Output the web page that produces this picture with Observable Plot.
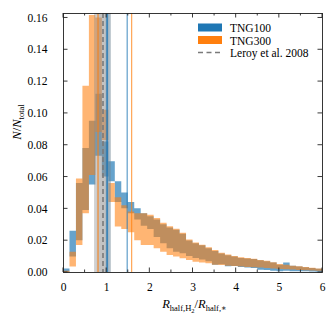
<!DOCTYPE html>
<html><head><meta charset="utf-8">
<script src="https://cdn.jsdelivr.net/npm/d3@7"></script>
<script src="https://cdn.jsdelivr.net/npm/@observablehq/plot@0.6"></script>
<style>body{margin:0;background:#fff} svg, svg text, svg tspan{font-family:"Liberation Serif","Times New Roman","DejaVu Serif",serif !important}</style>
</head><body><div id="chart"></div>
<script>
// bin edges of R_half,H2 / R_half,*
const binEdges = [0,0.15,0.3,0.45,0.6,0.75,0.9,1.05,1.2,1.35,1.5,1.65,1.8,1.95,2.1,2.25,2.4,2.55,2.7,2.85,3.0,3.15,3.3,3.45,3.6,3.75,3.9,4.05,4.2,4.35,4.5,4.65,4.8,4.95,5.1,5.25,5.4,5.55,5.7,5.85,6.0];
// TNG100 band (lower / upper)
const tng100Lower = [0.000,0.0097,0.020,0.039,0.055,0.073,0.060,0.057,0.044,0.040,0.037,0.033,0.029,0.027,0.022,0.018,0.015,0.0128,0.0118,0.0100,0.0088,0.0078,0.0068,0.0045,0.0048,0.0036,0.0038,0.0032,0.0028,0.0025,0.0014,0.0012,0.0008,0.0005,0.0008,0.0005,0.0005,0.0004,0.0003,0.0002];
const tng100Upper = [0.0022,0.026,0.056,0.078,0.095,0.112,0.082,0.0696,0.057,0.050,0.044,0.040,0.037,0.035,0.033,0.030,0.028,0.0265,0.024,0.0198,0.018,0.0168,0.015,0.0132,0.0117,0.0105,0.0097,0.0088,0.0085,0.0082,0.0074,0.0068,0.0060,0.0046,0.0059,0.0040,0.0034,0.0030,0.0025,0.0020];
// TNG300 band (lower / upper)
const tng300Lower = [0.000,0.0034,0.017,0.037,0.061,0.088,0.083,0.044,0.0286,0.027,0.025,0.020,0.017,0.017,0.015,0.0128,0.0107,0.0097,0.0086,0.0076,0.0065,0.0059,0.0055,0.0046,0.0044,0.0040,0.0038,0.0035,0.0032,0.0030,0.0028,0.0025,0.0022,0.0019,0.0017,0.0015,0.0013,0.0011,0.0009,0.0008];
const tng300Upper = [0.0008,0.0128,0.0587,0.117,0.1615,0.160,0.102,0.056,0.047,0.042,0.038,0.037,0.037,0.036,0.034,0.031,0.0288,0.0272,0.0246,0.0204,0.0185,0.0172,0.0155,0.0138,0.0121,0.0110,0.0100,0.0092,0.0088,0.0084,0.0076,0.0070,0.0062,0.0050,0.0045,0.0040,0.0036,0.0032,0.0027,0.0022];
// reference lines
const leroyRange = [0.72, 1.11];
const leroyInner = [0.78, 1.06];
const leroyValue = [0.915];
const tng100Median = [1.01];
const tng300Median = [0.80];
const tng100MedianBand = [0.985, 1.10];
const tng100Mean = [1.475];
const tng300Mean = [1.58];
// ticks
const xTicks = [0,1,2,3,4,5,6];
const xMinor = [0.5,1.5,2.5,3.5,4.5,5.5];
const yTicks = [0,0.02,0.04,0.06,0.08,0.10,0.12,0.14,0.16];
const yMax = 0.1628;
const legendLabels = ["TNG100","TNG300","Leroy et al. 2008"];

const blue = "#1f77b4", orange = "#ff7f0e";
const FONT = "'Liberation Serif', 'Times New Roman', 'DejaVu Serif', serif";
const pts = (lo, hi) => binEdges.map((x, i) => ({x, lo: lo[Math.min(i, lo.length-1)], hi: hi[Math.min(i, hi.length-1)]}));

const plot = Plot.plot({
  width: 329, height: 319,
  marginLeft: 63, marginRight: 7, marginTop: 13, marginBottom: 47,
  style: {fontFamily: FONT, fontSize: "11.5px", color: "#000", background: "#fff"},
  x: {domain: [0, 6], label: null},
  y: {domain: [0, yMax], label: null},
  marks: [
    Plot.areaY(pts(tng100Lower, tng100Upper), {x: "x", y1: "lo", y2: "hi", curve: "step-after", fill: blue, fillOpacity: 0.68}),
    Plot.areaY(pts(tng300Lower, tng300Upper), {x: "x", y1: "lo", y2: "hi", curve: "step-after", fill: orange, fillOpacity: 0.58}),
    Plot.rect([{a: leroyRange[0], b: leroyRange[1]}], {x1: "a", x2: "b", fill: "#8c8c8c", fillOpacity: 0.4}),
    Plot.rect([{a: leroyInner[0], b: leroyInner[1]}], {x1: "a", x2: "b", fill: "#8c8c8c", fillOpacity: 0.2}),
    Plot.rect([{a: tng100MedianBand[0], b: tng100MedianBand[1]}], {x1: "a", x2: "b", fill: blue, fillOpacity: 0.2}),
    Plot.ruleX(tng300Median, {stroke: orange, strokeWidth: 1.2, strokeOpacity: 0.8}),
    Plot.ruleX(tng100Median, {stroke: blue, strokeWidth: 1.5, strokeOpacity: 0.9}),
    Plot.ruleX(leroyValue, {stroke: "#7a7a7a", strokeWidth: 1.6, strokeDasharray: "5,3"}),
    Plot.ruleX(tng100Mean, {stroke: blue, strokeWidth: 1, strokeOpacity: 0.85}),
    Plot.ruleX(tng300Mean, {stroke: orange, strokeWidth: 1, strokeOpacity: 0.85}),
    Plot.axisX({ticks: xTicks, tickSize: 0, tickPadding: 10, tickFormat: d => String(d), label: null}),
    Plot.axisY({ticks: yTicks, tickSize: 0, tickPadding: 16, tickFormat: d3.format(".2f"), label: null}),
    Plot.frame({stroke: "#222", strokeWidth: 0.9})
  ]
});
document.getElementById("chart").appendChild(plot);

const svg = d3.select(plot);
svg.selectAll("text").attr("font-family", FONT);
const sx = plot.scale("x"), sy = plot.scale("y");
const [xl, xr] = sx.range, [yb, yt] = sy.range;
const g = svg.append("g").attr("stroke", "#222").attr("stroke-width", 0.9);
function vt(v, len) {
  const X = sx.apply(v);
  g.append("line").attr("x1", X).attr("x2", X).attr("y1", yb).attr("y2", yb - len);
  g.append("line").attr("x1", X).attr("x2", X).attr("y1", yt).attr("y2", yt + len);
}
xTicks.forEach(v => vt(v, 4.5));
xMinor.forEach(v => vt(v, 2.5));
yTicks.forEach(v => {
  const Y = sy.apply(v);
  g.append("line").attr("x1", xl).attr("x2", xl + 4.5).attr("y1", Y).attr("y2", Y);
  g.append("line").attr("x1", xr).attr("x2", xr - 4.5).attr("y1", Y).attr("y2", Y);
});

// axis labels
const xlab = svg.append("text").attr("x", (xl + xr) / 2 + 2).attr("y", 308).attr("text-anchor", "middle")
  .attr("font-family", FONT).attr("font-size", 12.5).attr("fill", "#000");
xlab.append("tspan").attr("font-style", "italic").text("R");
xlab.append("tspan").attr("font-size", 8.5).attr("dy", 3).text("half,H");
xlab.append("tspan").attr("font-size", 6.5).attr("dy", 1.8).text("2");
xlab.append("tspan").attr("dy", -4.8).text("/");
xlab.append("tspan").attr("font-style", "italic").text("R");
xlab.append("tspan").attr("font-size", 8.5).attr("dy", 3).text("half,∗");

const ylab = svg.append("text").attr("transform", `translate(21,122) rotate(-90)`).attr("text-anchor", "middle")
  .attr("font-family", FONT).attr("font-size", 12.5).attr("fill", "#000");
ylab.append("tspan").attr("font-style", "italic").text("N");
ylab.append("tspan").text("/");
ylab.append("tspan").attr("font-style", "italic").text("N");
ylab.append("tspan").attr("font-size", 8.5).attr("dy", 3).text("total");

// legend
const lg = svg.append("g").attr("font-family", FONT).attr("font-size", 11.5).attr("fill", "#000").attr("text-anchor", "start");
lg.append("rect").attr("x", 198).attr("y", 23.5).attr("width", 24).attr("height", 8).attr("fill", blue);
lg.append("rect").attr("x", 198).attr("y", 36).attr("width", 24).attr("height", 8).attr("fill", orange);
lg.append("line").attr("x1", 198).attr("x2", 222).attr("y1", 52.5).attr("y2", 52.5)
  .attr("stroke", "#7a7a7a").attr("stroke-width", 1.6).attr("stroke-dasharray", "5,3.5");
lg.append("text").attr("x", 230).attr("y", 31.5).text(legendLabels[0]);
lg.append("text").attr("x", 230).attr("y", 44.5).text(legendLabels[1]);
lg.append("text").attr("x", 230).attr("y", 56.5).text(legendLabels[2]);
</script>
</body></html>
